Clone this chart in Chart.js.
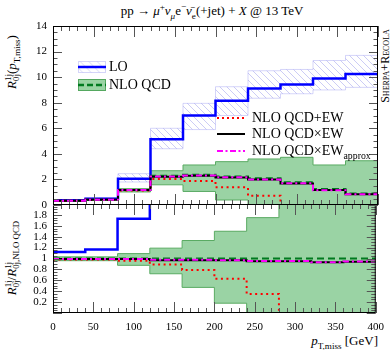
<!DOCTYPE html>
<html>
<head>
<meta charset="utf-8">
<script src="https://cdn.jsdelivr.net/npm/chart.js@4.4.1/dist/chart.umd.min.js"></script>
<style>
  body { margin: 0; background: #fff; }
  #wrap { position: relative; width: 392px; height: 350px; overflow: hidden; font-family: "Liberation Serif", "DejaVu Serif", serif; color: #000; }
  canvas { position: absolute; left: 0; }
  .t { position: absolute; white-space: nowrap; line-height: 1; }
  .rot { position: absolute; white-space: nowrap; line-height: 1; transform: translate(-50%, -50%) rotate(-90deg); }
  sub, sup { font-size: 70%; line-height: 0; }
  .ss { display: inline-block; vertical-align: -0.35em; font-size: 68%; line-height: 0.9; text-align: left; }
  .ss span { display: block; }
  .leg { position: absolute; height: 14px; font-size: 14px; line-height: 14px; white-space: nowrap; z-index: 3; }
  .leg svg { position: absolute; left: 0; top: 0; }
  .leg span.lab { position: absolute; top: 0; }
</style>
</head>
<body>
<div id="wrap">
  <canvas id="bot" width="392" height="160" style="top:190px;z-index:1"></canvas>
  <canvas id="top" width="392" height="222" style="top:0;z-index:2"></canvas>

  <div class="t" style="left:212px;top:4px;font-size:13px;transform:translateX(-50%)">pp → <i>μ</i><sup>+</sup><i>ν</i><sub><i>μ</i></sub>e<sup>−</sup><i>ν̄</i><sub>e</sub>(+jet) + <i>X</i> @ 13 TeV</div>
  <div class="rot" style="left:13px;top:62px;font-size:13px"><i>R</i><span class="ss"><span>1j</span><span>0j</span></span>(<i>p</i><sub>T,miss</sub>)</div>
  <div class="rot" style="left:13px;top:258px;font-size:13px"><i>R</i><span class="ss"><span>1j</span><span>0j</span></span>/<i>R</i><span class="ss"><span>1j</span><span>0j,NLO QCD</span></span></div>
  <div class="rot" style="left:385px;top:66px;font-size:12px;font-variant:small-caps">Sherpa+Recola</div>
  <div class="t" style="right:14px;top:334px;font-size:13px"><i>p</i><sub>T,miss</sub> [GeV]</div>

  <div class="leg" style="left:78px;top:60px">
    <svg width="28" height="14"><defs><pattern id="hp" width="6" height="6" patternUnits="userSpaceOnUse" patternTransform="rotate(-45)"><line x1="0" y1="0" x2="0" y2="6" stroke="rgba(120,120,230,0.4)" stroke-width="1"/></pattern></defs><rect x="0.5" y="1.5" width="27" height="11" fill="url(#hp)" stroke="rgba(150,150,240,0.4)"/><line x1="0" y1="7" x2="28" y2="7" stroke="#0000ff" stroke-width="2.5"/></svg>
    <span class="lab" style="left:31px">LO</span>
  </div>
  <div class="leg" style="left:78px;top:78px">
    <svg width="28" height="14"><rect x="0.5" y="1.5" width="27" height="11" fill="#9ad3a4" stroke="#55a860"/><line x1="0" y1="7" x2="28" y2="7" stroke="#007a1f" stroke-width="2.5" stroke-dasharray="6 3"/></svg>
    <span class="lab" style="left:31px">NLO QCD</span>
  </div>
  <div class="leg" style="left:217px;top:111px">
    <svg width="28" height="14"><line x1="0" y1="7" x2="28" y2="7" stroke="#ff0000" stroke-width="2" stroke-dasharray="2 3"/></svg>
    <span class="lab" style="left:35px">NLO QCD+EW</span>
  </div>
  <div class="leg" style="left:217px;top:127px">
    <svg width="28" height="14"><line x1="0" y1="7" x2="28" y2="7" stroke="#000" stroke-width="2"/></svg>
    <span class="lab" style="left:35px">NLO QCD×EW</span>
  </div>
  <div class="leg" style="left:217px;top:144px">
    <svg width="28" height="14"><line x1="0" y1="7" x2="28" y2="7" stroke="#ff00ff" stroke-width="2" stroke-dasharray="6 2.5 2 2.5"/></svg>
    <span class="lab" style="left:35px">NLO QCD×EW<sub>approx</sub></span>
  </div>
</div>

<script>
const edges = [0, 40, 80, 120, 160, 200, 240, 280, 320, 360, 400];

// upper panel, one value per 40 GeV bin
const lo          = [0.38, 0.49, 2.05, 5.15, 7.0, 8.15, 9.12, 9.43, 9.9, 10.24];
const loUp        = [0.43, 0.56, 2.45, 6.0, 7.95, 9.25, 10.5, 10.6, 11.3, 11.7];
const loDn        = [0.34, 0.43, 1.8, 4.4, 5.9, 7.0, 8.35, 8.7, 9.0, 9.2];
const nlo         = [0.34, 0.42, 1.18, 2.28, 2.36, 2.23, 2.1, 1.78, 1.25, 0.9];
const nloUp       = [0.35, 0.44, 1.28, 2.68, 3.13, 3.39, 3.6, 3.73, 3.13, 3.46];
const nloDn       = [0.33, 0.40, 1.02, 1.58, 1.06, 0.39, -1, -1, -1, -1];
const qcdPlusEw   = [0.34, 0.42, 1.13, 2.03, 1.88, 1.38, 0.73, -0.4, -1.5, -2.5];
const qcdTimesEw  = [0.34, 0.42, 1.17, 2.21, 2.29, 2.16, 2.0, 1.69, 1.17, 0.84];
const qcdEwApprox = [0.34, 0.42, 1.17, 2.22, 2.3, 2.17, 2.0, 1.7, 1.16, 0.85];

// ratio panel (to NLO QCD)
const rLo          = [1.12, 1.165, 1.73, 2.26, 2.97, 3.65, 4.3, 5.3, 7.9, 11.4];
const rNlo         = [1, 1, 1, 1, 1, 1, 1, 1, 1, 1];
const rNloUp       = [1.03, 1.03, 1.09, 1.19, 1.33, 1.5, 1.75, 2.6, 3.0, 3.2];
const rNloDn       = [0.96, 0.96, 0.875, 0.72, 0.47, 0.18, -0.5, -1.5, -1.5, -1.5];
const rQcdPlusEw   = [0.98, 0.98, 0.96, 0.89, 0.79, 0.63, 0.35, -0.3, -1.2, -2.8];
const rQcdTimesEw  = [0.99, 0.99, 0.99, 0.97, 0.97, 0.97, 0.95, 0.95, 0.93, 0.94];
const rQcdEwApprox = [0.99, 0.99, 0.99, 0.975, 0.975, 0.97, 0.955, 0.955, 0.93, 0.945];

const xTicks = [0, 50, 100, 150, 200, 250, 300, 350, 400];
const serif = '"Liberation Serif", "DejaVu Serif", serif';

function steps(vals) {
  return edges.map((x, i) => ({ x, y: vals[Math.min(i, vals.length - 1)] }));
}

function hatch() {
  const c = document.createElement('canvas');
  c.width = c.height = 7;
  const g = c.getContext('2d');
  g.strokeStyle = 'rgba(120,120,230,0.38)';
  g.lineWidth = 1;
  g.beginPath();
  for (const x0 of [-7, 0, 7]) { g.moveTo(x0, 0); g.lineTo(x0 + 7, 7); }
  g.stroke();
  return g.createPattern(c, 'repeat');
}

const base = { pointRadius: 0, stepped: true, borderJoinStyle: 'miter', borderCapStyle: 'butt', tension: 0 };

function line(vals, color, width, dash, order) {
  return Object.assign({ data: steps(vals), borderColor: color, borderWidth: width, borderDash: dash, order, fill: false }, base);
}
function band(vals, border, fill, order) {
  const d = Object.assign({ data: steps(vals), borderColor: border, borderWidth: 1, order, fill: false }, base);
  if (fill) { d.fill = '-1'; d.backgroundColor = fill; }
  return d;
}

// inward ticks and frame
const frameTicks = {
  id: 'frameTicks',
  afterDatasetsDraw(chart, args, o) {
    const { ctx, chartArea: a } = chart;
    const x = chart.scales.x, y = chart.scales.y;
    ctx.save();
    ctx.lineWidth = 1;
    ctx.strokeStyle = '#555';
    ctx.beginPath();
    for (let v = 0; v <= 400; v += 10) {
      const px = Math.round(x.getPixelForValue(v)) + 0.5;
      const len = v % 50 === 0 ? 11 : 5;
      ctx.moveTo(px, a.top); ctx.lineTo(px, a.top + len);
      ctx.moveTo(px, a.bottom); ctx.lineTo(px, a.bottom - len);
    }
    const n = Math.round(o.max / o.minor);
    for (let i = 0; i <= n; i++) {
      const py = Math.round(y.getPixelForValue(i * o.minor)) + 0.5;
      const len = i % o.per === 0 ? 9 : 4.5;
      ctx.moveTo(a.left, py); ctx.lineTo(a.left + len, py);
      ctx.moveTo(a.right, py); ctx.lineTo(a.right - len, py);
    }
    ctx.stroke();
    ctx.strokeStyle = '#000';
    ctx.strokeRect(a.left + 0.5, a.top + 0.5, a.right - a.left - 1, a.bottom - a.top - 1);
    ctx.restore();
  }
};

new Chart(document.getElementById('top'), {
  type: 'line',
  data: {
    datasets: [
      band(loUp, 'rgba(150,150,240,0.4)', null, 10),
      band(loDn, 'rgba(150,150,240,0.4)', hatch(), 10),
      band(nloUp, '#5aab63', null, 9),
      band(nloDn, '#5aab63', '#9ad3a4', 9),
      line(lo, '#0000ff', 2.5, [], 5),
      line(nlo, '#007a1f', 2, [7, 4], 4),
      line(qcdPlusEw, '#ff0000', 2, [2, 3.5], 3),
      line(qcdTimesEw, '#000000', 2, [], 2),
      line(qcdEwApprox, '#ff00ff', 2, [6, 3, 2, 3], 1)
    ]
  },
  options: {
    responsive: false,
    animation: false,
    events: [],
    layout: { padding: { left: 0, right: 14, top: 26, bottom: 17 } },
    plugins: {
      legend: { display: false },
      tooltip: { enabled: false },
      frameTicks: { minor: 0.5, per: 4, max: 14 }
    },
    scales: {
      x: { type: 'linear', min: 0, max: 400, display: false },
      y: {
        min: 0, max: 14,
        ticks: { stepSize: 2, autoSkip: false, color: '#000', padding: 6, font: { family: serif, size: 11 } },
        grid: { display: false, drawTicks: false },
        border: { display: false },
        afterFit: s => { s.width = 53; }
      }
    }
  },
  plugins: [frameTicks]
});

new Chart(document.getElementById('bot'), {
  type: 'line',
  data: {
    datasets: [
      band(rNloUp, '#5aab63', null, 9),
      band(rNloDn, '#5aab63', '#9ad3a4', 9),
      line(rLo, '#0000ff', 2.5, [], 5),
      line(rNlo, '#007a1f', 2, [7, 4], 4),
      line(rQcdPlusEw, '#ff0000', 2, [2, 3.5], 3),
      line(rQcdTimesEw, '#000000', 2, [], 2),
      line(rQcdEwApprox, '#ff00ff', 2, [6, 3, 2, 3], 1)
    ]
  },
  options: {
    responsive: false,
    animation: false,
    events: [],
    layout: { padding: { left: 0, right: 14, top: 14, bottom: 0 } },
    plugins: {
      legend: { display: false },
      tooltip: { enabled: false },
      frameTicks: { minor: 0.05, per: 4, max: 2 }
    },
    scales: {
      x: {
        type: 'linear', min: 0, max: 400,
        afterBuildTicks: s => { s.ticks = xTicks.map(v => ({ value: v })); },
        ticks: { color: '#000', padding: 8, maxRotation: 0, font: { family: serif, size: 11 } },
        grid: { display: false, drawTicks: false },
        border: { display: false },
        afterFit: s => { s.height = 37; }
      },
      y: {
        min: 0, max: 2,
        ticks: {
          stepSize: 0.2, autoSkip: false, color: '#000', padding: 6, font: { family: serif, size: 11 },
          callback: v => (Math.abs(v) < 1e-6 || Math.abs(v - 2) < 1e-6) ? null : (Math.abs(v - 1) < 1e-6 ? '1' : v.toFixed(1))
        },
        grid: { display: false, drawTicks: false },
        border: { display: false },
        afterFit: s => { s.width = 53; }
      }
    }
  },
  plugins: [frameTicks]
});
</script>
</body>
</html>
